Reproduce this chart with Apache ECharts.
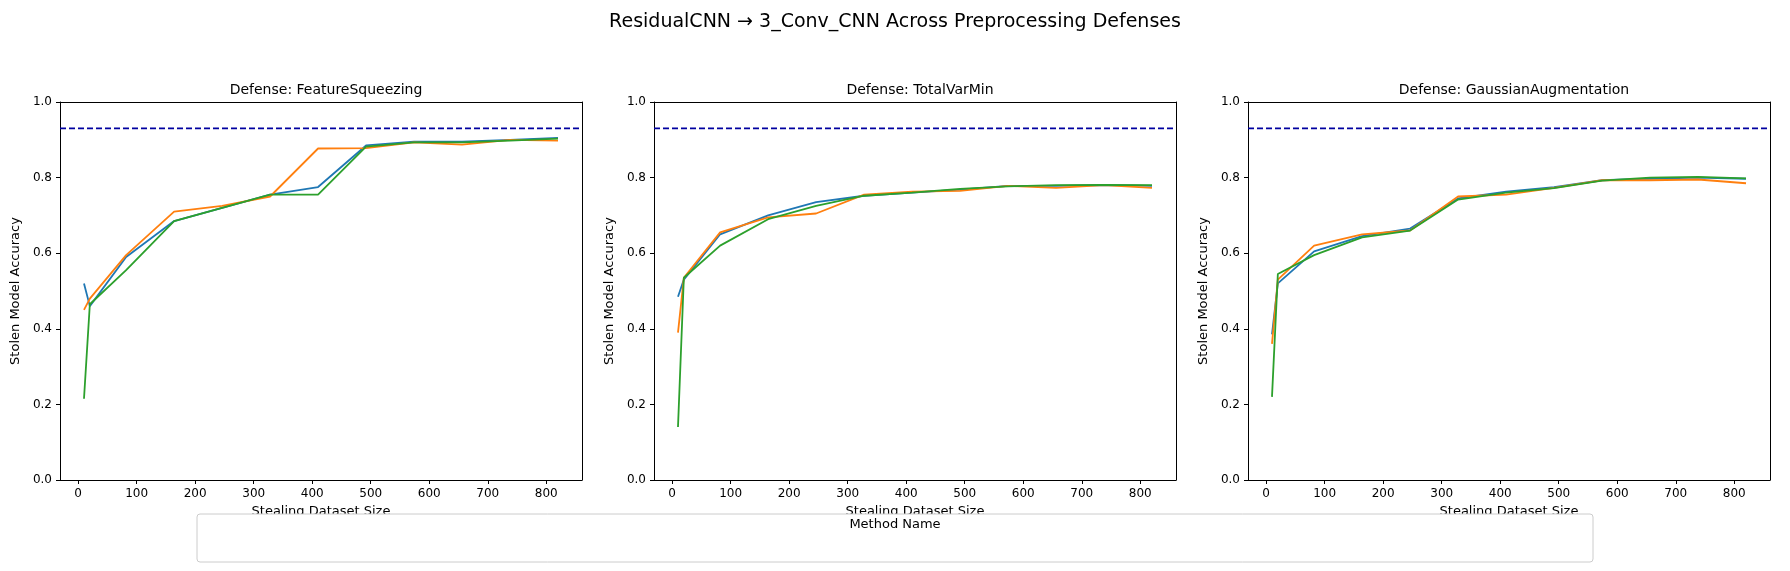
<!DOCTYPE html>
<html lang="en">
<head>
  <meta charset="UTF-8">
  <title>ResidualCNN → 3_Conv_CNN</title>
  <script src="https://cdn.jsdelivr.net/npm/echarts@6/dist/echarts.min.js"></script>
  <style>
    html,body{margin:0;padding:0;background:#fff;}
    #main{width:1790px;height:571px;}
  </style>
</head>
<body>
  <div id="main"></div>
  <script>
    // 数据
    var sizes = [10, 20, 82, 164, 246, 328, 410, 492, 574, 656, 738, 820];
    var xTicks = [0, 100, 200, 300, 400, 500, 600, 700, 800];
    var yTicks = [0, 0.2, 0.4, 0.6, 0.8, 1.0];
    var defenses = ['FeatureSqueezing', 'TotalVarMin', 'GaussianAugmentation'];
    var protectedAcc = 0.93;

    var argmaxFS = [0.52, 0.46, 0.59, 0.685, 0.72, 0.755, 0.775, 0.885, 0.895, 0.895, 0.9, 0.905];
    var knockoffFS = [0.45, 0.48, 0.595, 0.71, 0.725, 0.75, 0.877, 0.878, 0.893, 0.887, 0.9, 0.898];
    var probFS = [0.215, 0.465, 0.555, 0.685, 0.72, 0.755, 0.755, 0.882, 0.893, 0.893, 0.898, 0.903];

    var argmaxTV = [0.485, 0.53, 0.65, 0.70, 0.735, 0.752, 0.76, 0.768, 0.778, 0.778, 0.78, 0.778];
    var knockoffTV = [0.39, 0.535, 0.655, 0.695, 0.705, 0.755, 0.763, 0.765, 0.778, 0.773, 0.78, 0.773];
    var probTV = [0.14, 0.535, 0.62, 0.69, 0.725, 0.752, 0.76, 0.77, 0.777, 0.78, 0.781, 0.78];

    var argmaxGA = [0.385, 0.52, 0.605, 0.645, 0.665, 0.745, 0.763, 0.775, 0.793, 0.797, 0.8, 0.797];
    var knockoffGA = [0.36, 0.53, 0.62, 0.65, 0.66, 0.75, 0.755, 0.773, 0.793, 0.793, 0.795, 0.785];
    var probGA = [0.22, 0.545, 0.595, 0.642, 0.66, 0.742, 0.76, 0.772, 0.792, 0.8, 0.802, 0.798];

    var panels = [[argmaxFS, knockoffFS, probFS], [argmaxTV, knockoffTV, probTV], [argmaxGA, knockoffGA, probGA]];
    var names = ['Argmax CopycatCNN (vs. Protected)', 'KnockoffNets (vs. Protected)', 'Probabilistic CopycatCNN (vs. Protected)'];
    var colors = ['#1f77b4', '#ff7f0e', '#2ca02c'];
    var font = 'DejaVu Sans';
    var lefts = [60, 654, 1248];
    var pw = 522;

    function zip(a){ return sizes.map(function(s,i){ return [s, a[i]]; }); }

    var grids = [], xAxes = [], yAxes = [], series = [], titles = [];
    for (var p = 0; p < 3; p++) {
      grids.push({left: lefts[p], width: pw, top: 102, height: 378});
      titles.push({text: 'Defense: ' + defenses[p], left: lefts[p] + pw / 2, top: 78, textAlign: 'center',
        textStyle: {fontFamily: font, fontSize: 14, fontWeight: 'normal', color: '#000'}});
      xAxes.push({type: 'value', gridIndex: p, min: -31, max: 861,
        name: 'Stealing Dataset Size', nameLocation: 'middle', nameGap: 24,
        nameTextStyle: {fontFamily: font, fontSize: 13, color: '#000'},
        axisLine: {onZero: false, lineStyle: {color: '#000'}},
        axisTick: {customValues: xTicks, length: 4, lineStyle: {color: '#000'}},
        axisLabel: {customValues: xTicks, fontFamily: font, fontSize: 12, color: '#000'},
        splitLine: {show: false}});
      yAxes.push({type: 'value', gridIndex: p, min: 0, max: 1, interval: 0.2,
        name: 'Stolen Model Accuracy', nameLocation: 'middle', nameGap: 38,
        nameTextStyle: {fontFamily: font, fontSize: 13, color: '#000'},
        axisLine: {show: true, onZero: false, lineStyle: {color: '#000'}},
        axisTick: {show: true, length: 4, lineStyle: {color: '#000'}},
        axisLabel: {fontFamily: font, fontSize: 12, color: '#000', formatter: function(v){ return v.toFixed(1); }},
        splitLine: {show: false}});
      // 上、右边框
      xAxes.push({type: 'value', gridIndex: p, position: 'top', min: -31, max: 861,
        axisLine: {show: true, onZero: false, lineStyle: {color: '#000'}}, axisTick: {show: false}, axisLabel: {show: false}, splitLine: {show: false}});
      yAxes.push({type: 'value', gridIndex: p, position: 'right', min: 0, max: 1,
        axisLine: {show: true, onZero: false, lineStyle: {color: '#000'}}, axisTick: {show: false}, axisLabel: {show: false}, splitLine: {show: false}});
      for (var k = 0; k < 3; k++) {
        series.push({name: names[k], type: 'line', xAxisIndex: 2 * p, yAxisIndex: 2 * p,
          data: zip(panels[p][k]), showSymbol: false, symbol: 'none', silent: true,
          lineStyle: {color: colors[k], width: 1.8}, itemStyle: {color: colors[k]}});
      }
      series.push({name: 'Original Model Accuracy', type: 'line', xAxisIndex: 2 * p, yAxisIndex: 2 * p,
        data: [], symbol: 'none', lineStyle: {color: '#d62728', type: [6, 3], width: 1.8}, itemStyle: {color: '#d62728'}});
      series.push({name: 'Protected Model Accuracy', type: 'line', xAxisIndex: 2 * p, yAxisIndex: 2 * p,
        data: [[-31, protectedAcc], [861, protectedAcc]], symbol: 'none', silent: true,
        lineStyle: {color: '#0000a0', type: [6, 3], width: 1.8}, itemStyle: {color: '#0000a0'}});
    }
    titles.push({text: 'ResidualCNN → 3_Conv_CNN Across Preprocessing Defenses', left: 'center', top: 8,
      textStyle: {fontFamily: font, fontSize: 19, fontWeight: 'normal', color: '#000'}});

    var myChart = echarts.init(document.getElementById('main'));
    var option = {
      animation: false,
      backgroundColor: '#fff',
      title: titles,
      grid: grids,
      xAxis: xAxes,
      yAxis: yAxes,
      series: series,
      legend: {
        data: names.map(function(n, i){ return {name: n, icon: 'path://M0,0L30,0L30,2L0,2Z'}; }).concat([
          {name: 'Original Model Accuracy', icon: 'path://M0,0L8,0L8,2L0,2ZM11,0L19,0L19,2L11,2ZM22,0L30,0L30,2L22,2Z'},
          {name: 'Protected Model Accuracy', icon: 'path://M0,0L8,0L8,2L0,2ZM11,0L19,0L19,2L11,2ZM22,0L30,0L30,2L22,2Z'}
        ]),
        left: 'center', top: 533, itemWidth: 30, itemHeight: 3, itemGap: 42,
        textStyle: {fontFamily: font, fontSize: 13, color: '#000'},
        selectedMode: false
      },
      graphic: [
        {type: 'rect', shape: {x: 197, y: 514, width: 1396, height: 48, r: 3},
          style: {fill: '#fff', stroke: '#cccccc', lineWidth: 1}, z: 10},
        {type: 'text', x: 895, y: 518, z: 11, style: {text: 'Method Name', align: 'center', fontFamily: font, fontSize: 13, fill: '#000'}}
      ]
    };
    myChart.setOption(option);
  </script>
</body>
</html>
